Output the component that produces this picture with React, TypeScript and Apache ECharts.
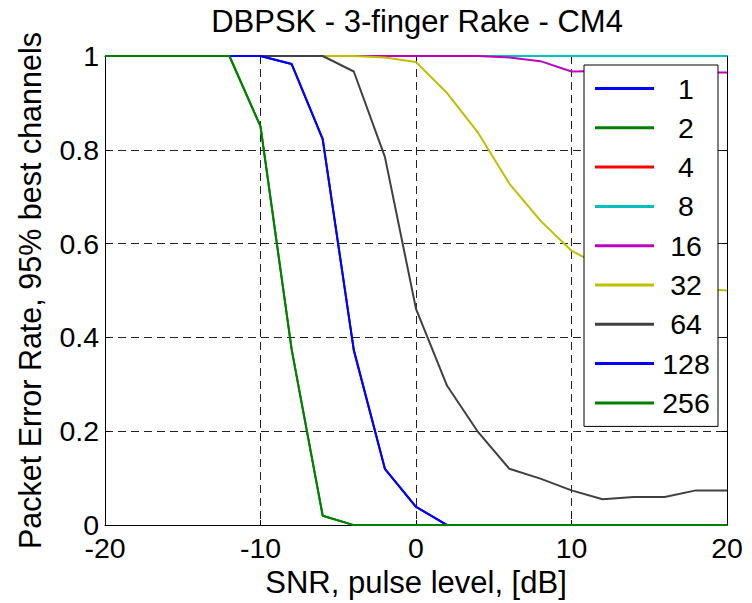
import React, { useEffect, useRef } from "react";
import * as echarts from "echarts";

const snr = [-20, -18, -16, -14, -12, -10, -8, -6, -4, -2, 0, 2, 4, 6, 8, 10, 12, 14, 16, 18, 20];
const seriesNames = ["1", "2", "4", "8", "16", "32", "64", "128", "256"];
const seriesColors = ["#0000FF", "#008000", "#FF0000", "#00BFBF", "#BF00BF", "#BFBF00", "#404040", "#0000FF", "#008000"];

const per1 = [1, 1, 1, 1, 1, 1, 0.983, 0.823, 0.373, 0.12, 0.039, 0, 0, 0, 0, 0, 0, 0, 0, 0, 0];
const per2 = [1, 1, 1, 1, 1, 0.85, 0.375, 0.02, 0, 0, 0, 0, 0, 0, 0, 0, 0, 0, 0, 0, 0];
const per4 = [1, 1, 1, 1, 1, 1, 1, 1, 1, 1, 1, 1, 1, 1, 1, 1, 1, 1, 1, 1, 1];
const per8 = [1, 1, 1, 1, 1, 1, 1, 1, 1, 1, 1, 1, 1, 1, 1, 1, 1, 1, 1, 1, 1];
const per16 = [1, 1, 1, 1, 1, 1, 1, 1, 1, 1, 1, 1, 1, 0.997, 0.989, 0.967, 0.968, 0.966, 0.966, 0.965, 0.965];
const per32 = [1, 1, 1, 1, 1, 1, 1, 1, 1, 0.997, 0.987, 0.921, 0.836, 0.728, 0.649, 0.585, 0.55, 0.53, 0.515, 0.505, 0.5];
const per64 = [1, 1, 1, 1, 1, 1, 1, 1, 0.967, 0.785, 0.461, 0.297, 0.198, 0.12, 0.099, 0.074, 0.055, 0.06, 0.06, 0.074, 0.074];
const per128 = [1, 1, 1, 1, 1, 1, 0.983, 0.823, 0.373, 0.12, 0.039, 0, 0, 0, 0, 0, 0, 0, 0, 0, 0];
const per256 = [1, 1, 1, 1, 1, 0.85, 0.375, 0.02, 0, 0, 0, 0, 0, 0, 0, 0, 0, 0, 0, 0, 0];

const allValues = [per1, per2, per4, per8, per16, per32, per64, per128, per256];

const FONT = "'Liberation Sans', Arial, Helvetica, sans-serif";

export default function App() {
  const ref = useRef<HTMLDivElement>(null);
  useEffect(() => {
    if (!ref.current) return;
    const chart = echarts.init(ref.current, undefined, { renderer: "svg" });
    const gridLine = { show: true, lineStyle: { color: "#222", width: 1, type: [8, 5] as any } };
    const option: any = {
      animation: false,
      backgroundColor: "#fff",
      title: {
        text: "DBPSK - 3-finger Rake - CM4",
        left: 417,
        textAlign: "center",
        top: 6,
        padding: 0,
        textStyle: { fontFamily: FONT, fontSize: 31, fontWeight: "normal", color: "#000" },
      },
      grid: { left: 105, right: 25, top: 56, bottom: 75.5, containLabel: false },
      legend: {
        orient: "vertical",
        left: 584,
        top: 65,
        padding: [9, 5, 9, 11],
        itemGap: 10.3,
        itemWidth: 59,
        itemHeight: 3,
        icon: "rect",
        backgroundColor: "#fff",
        borderColor: "#000",
        borderWidth: 1,
        borderRadius: 0,
        data: seriesNames,
        formatter: "{a|{name}}",
        textStyle: {
          fontFamily: FONT,
          fontSize: 28.5,
          color: "#000",
          rich: { a: { width: 54, align: "center", fontSize: 28.5, lineHeight: 30, fontFamily: FONT, color: "#000" } },
        },
      },
      xAxis: [
        {
          type: "value",
          min: -20,
          max: 20,
          interval: 10,
          name: "SNR, pulse level, [dB]",
          nameLocation: "middle",
          nameGap: 33,
          nameTextStyle: { fontFamily: FONT, fontSize: 31, color: "#000" },
          axisLine: { show: true, onZero: false, lineStyle: { color: "#000", width: 1 } },
          axisTick: { show: true, inside: true, length: 5, lineStyle: { color: "#000" } },
          axisLabel: { fontFamily: FONT, fontSize: 28.5, color: "#000", margin: 8 },
          splitLine: gridLine,
        },
        {
          type: "value",
          min: -20,
          max: 20,
          interval: 10,
          position: "top",
          axisLine: { show: true, onZero: false, lineStyle: { color: "#000", width: 1 } },
          axisTick: { show: true, inside: true, length: 5, lineStyle: { color: "#000" } },
          axisLabel: { show: false },
          splitLine: { show: false },
        },
      ],
      yAxis: [
        {
          type: "value",
          min: 0,
          max: 1,
          interval: 0.2,
          name: "Packet Error Rate, 95% best channels",
          nameLocation: "middle",
          nameGap: 60,
          nameTextStyle: { fontFamily: FONT, fontSize: 30.5, color: "#000" },
          axisLine: { show: true, onZero: false, lineStyle: { color: "#000", width: 1 } },
          axisTick: { show: true, inside: true, length: 5, lineStyle: { color: "#000" } },
          axisLabel: { fontFamily: FONT, fontSize: 28.5, color: "#000", margin: 6, formatter: (v: number) => String(Math.round(v * 10) / 10) },
          splitLine: gridLine,
        },
        {
          type: "value",
          min: 0,
          max: 1,
          interval: 0.2,
          position: "right",
          axisLine: { show: true, onZero: false, lineStyle: { color: "#000", width: 1 } },
          axisTick: { show: true, inside: true, length: 5, lineStyle: { color: "#000" } },
          axisLabel: { show: false },
          splitLine: { show: false },
        },
      ],
      series: seriesNames.map((name, i) => ({
        name,
        type: "line",
        xAxisIndex: 0,
        yAxisIndex: 0,
        data: snr.map((x, j) => [x, allValues[i][j]]),
        symbol: "none",
        color: seriesColors[i],
        lineStyle: { color: seriesColors[i], width: 2 },
        clip: false,
      })),
    };
    chart.setOption(option);
    return () => chart.dispose();
  }, []);
  return <div ref={ref} style={{ position: "fixed", left: 0, top: 0, width: 752, height: 603 }} />;
}
